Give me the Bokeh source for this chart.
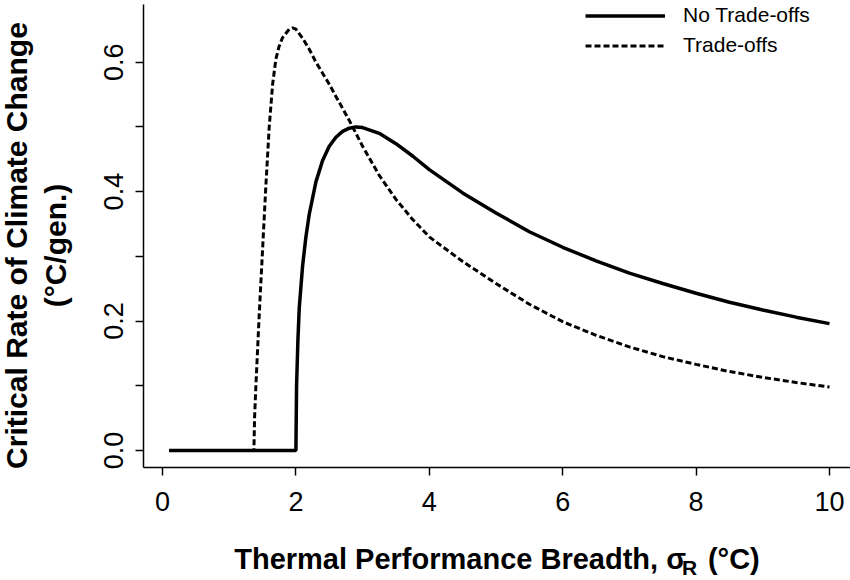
import math
from bokeh.plotting import figure
from bokeh.models import Range1d, FixedTicker, Label, Legend, LegendItem
from bokeh.embed import file_html
from bokeh.resources import INLINE

# ---- data ----
sigma_no_tradeoff = [0.1, 2.0, 2.01, 2.03, 2.05, 2.1, 2.15, 2.2, 2.3, 2.4, 2.5, 2.6, 2.7, 2.8,
                     2.9, 3.0, 3.25, 3.5, 3.75, 4.0, 4.5, 5.0, 5.5, 6.0, 6.5, 7.0, 7.5, 8.0,
                     8.5, 9.0, 9.5, 10.0]
rate_no_tradeoff = [0.0, 0.0, 0.10, 0.17, 0.22, 0.285, 0.33, 0.365, 0.415, 0.448, 0.47, 0.484,
                    0.493, 0.498, 0.50, 0.499, 0.49, 0.474, 0.455, 0.434, 0.398, 0.367, 0.338,
                    0.314, 0.293, 0.274, 0.258, 0.243, 0.229, 0.217, 0.206, 0.196]

sigma_tradeoff = [0.1, 1.37, 1.38, 1.40, 1.45, 1.50, 1.55, 1.60, 1.65, 1.70, 1.75, 1.80, 1.90,
                  1.95, 2.0, 2.1, 2.2, 2.3, 2.4, 2.5, 2.6, 2.8, 3.0, 3.25, 3.5, 3.75, 4.0, 4.5,
                  5.0, 5.5, 6.0, 6.5, 7.0, 7.5, 8.0, 8.5, 9.0, 9.5, 10.0]
rate_tradeoff = [0.0, 0.0, 0.05, 0.10, 0.21, 0.31, 0.41, 0.50, 0.565, 0.605, 0.625, 0.638, 0.651,
                 0.653, 0.651, 0.637, 0.62, 0.60, 0.583, 0.566, 0.547, 0.51, 0.47, 0.425, 0.388,
                 0.357, 0.33, 0.292, 0.258, 0.226, 0.199, 0.178, 0.160, 0.145, 0.133, 0.122,
                 0.113, 0.105, 0.098]

x_ticks = [0, 2, 4, 6, 8, 10]
y_ticks = [0.0, 0.2, 0.4, 0.6]
y_minor_ticks = [0.1, 0.3, 0.5]
y_tick_labels = ["0.0", "0.2", "0.4", "0.6"]
series_labels = ["No Trade-offs", "Trade-offs"]

FONT = "Liberation Sans"
NBSP = "\u00a0"
THIN = "\u2009"

p = figure(width=850, height=580, output_backend="svg", toolbar_location=None,
           x_range=Range1d(-0.285, 10.315), y_range=Range1d(-0.0263, 0.6891),
           min_border_left=143, min_border_right=0, min_border_top=4, min_border_bottom=113)

p.background_fill_color = "white"
p.border_fill_color = "white"
p.outline_line_color = None
p.grid.visible = False

p.xaxis.ticker = FixedTicker(ticks=x_ticks)
p.yaxis.ticker = FixedTicker(ticks=y_ticks, minor_ticks=y_minor_ticks)
p.yaxis.major_label_overrides = dict(zip(y_ticks, y_tick_labels))
p.yaxis.major_label_orientation = "vertical"

for ax in (p.xaxis[0], p.yaxis[0]):
    ax.axis_line_color = "black"
    ax.axis_line_width = 1.5
    ax.major_tick_line_color = "black"
    ax.major_tick_line_width = 1.5
    ax.major_tick_out = 8
    ax.major_tick_in = 0
    ax.minor_tick_out = 8
    ax.minor_tick_in = 0
    ax.minor_tick_line_width = 1.5
    ax.major_label_text_font = FONT
    ax.major_label_text_font_size = "27px"
    ax.major_label_text_color = "black"
p.xaxis.major_label_standoff = 16
p.yaxis.major_label_standoff = 12
p.xaxis.minor_tick_line_color = None
p.yaxis.minor_tick_line_color = "black"

# x-axis title (room left for the subscript R, drawn as its own label)
p.xaxis.axis_label = "Thermal Performance Breadth, σ" + NBSP * 2 + THIN + "(°C)"
p.xaxis.axis_label_text_font = FONT
p.xaxis.axis_label_text_font_size = "29px"
p.xaxis.axis_label_text_font_style = "bold"
p.xaxis.axis_label_text_color = "black"
p.xaxis.axis_label_standoff = 29

r_tr = p.line(sigma_tradeoff, rate_tradeoff, line_color="black", line_width=3, line_dash="6 3")
r_no = p.line(sigma_no_tradeoff, rate_no_tradeoff, line_color="black", line_width=3.5)

legend = Legend(items=[LegendItem(label=series_labels[0], renderers=[r_no]),
                       LegendItem(label=series_labels[1], renderers=[r_tr])],
                location=(442, 410), border_line_color=None, background_fill_alpha=0,
                padding=0, margin=0, spacing=6, label_standoff=18, glyph_width=80,
                glyph_height=23, label_height=23, label_text_font=FONT,
                label_text_font_size="21px", label_text_color="black")
p.add_layout(legend)

# y-axis title (two lines)
p.add_layout(Label(x=-2.19, y=0.3167, text="Critical Rate of Climate Change", angle=math.pi / 2,
                   text_align="center", text_baseline="alphabetic", text_font=FONT,
                   text_font_size="30px", text_font_style="bold", text_color="black"), "left")
p.add_layout(Label(x=-1.604, y=0.3167, text="(°C/gen.)", angle=math.pi / 2,
                   text_align="center", text_baseline="alphabetic", text_font=FONT,
                   text_font_size="30px", text_font_style="bold", text_color="black"), "left")
# subscript R of the x-axis title
p.add_layout(Label(x=7.79, y=-0.1815, text="R", text_align="left",
                   text_baseline="alphabetic", text_font=FONT, text_font_size="21px",
                   text_font_style="bold", text_color="black"), "left")

open("out.html", "w").write(file_html(p, INLINE))
